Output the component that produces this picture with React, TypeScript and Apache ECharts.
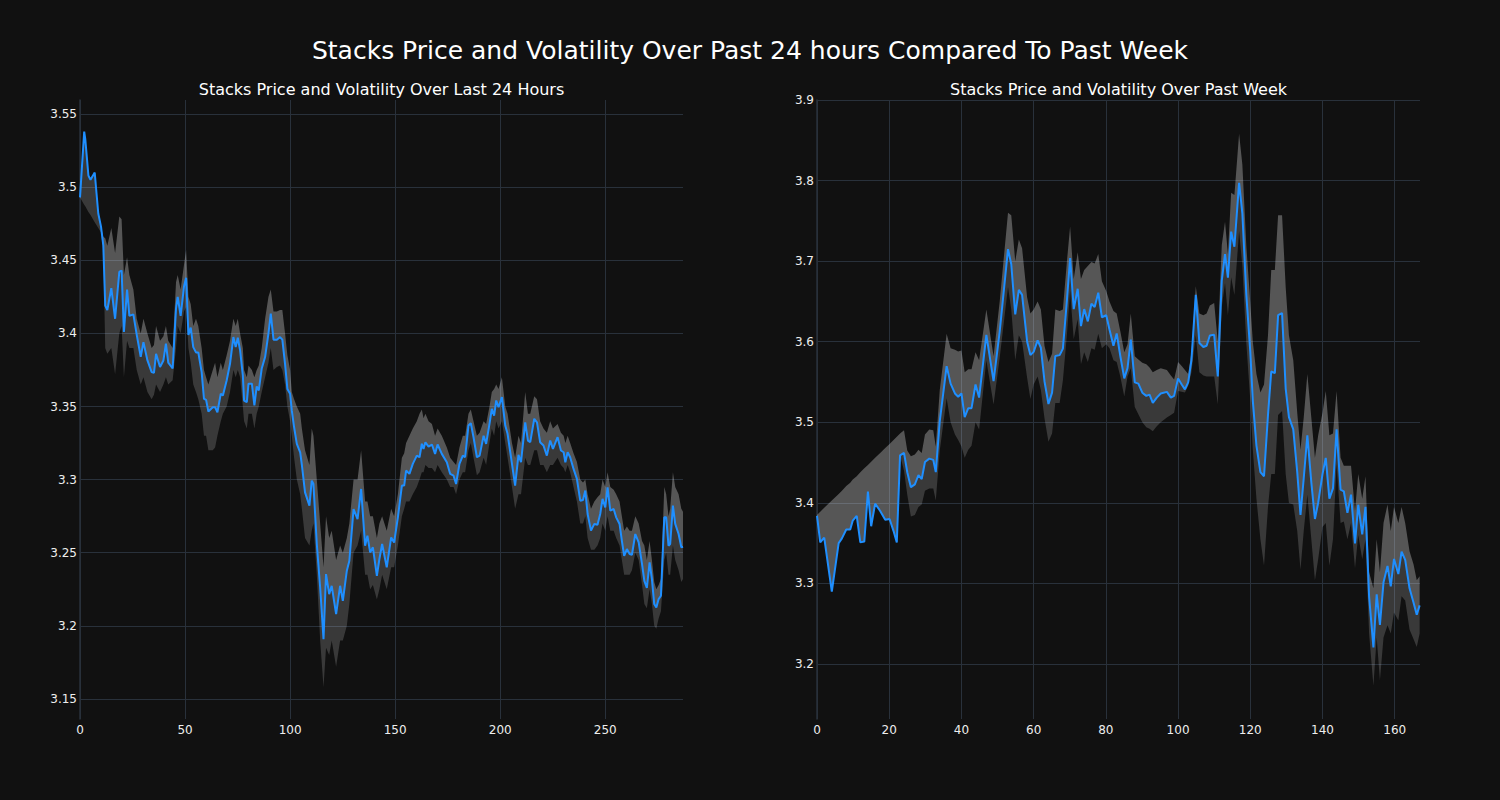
import React, { useEffect, useRef } from "react";
import * as echarts from "echarts";

const mainTitle = "Stacks Price and Volatility Over Past 24 hours Compared To Past Week";
const dayTitle = "Stacks Price and Volatility Over Last 24 Hours";
const weekTitle = "Stacks Price and Volatility Over Past Week";

// ---- Last 24 hours ----
const dayX = [0, 2, 2.5, 4, 5, 7, 8.7, 10, 11.1, 12, 13, 14.9, 16.7, 18.7, 19.8, 20.9, 22.4, 23.5, 25.4, 27, 28.9, 30.2, 32.1, 34.1, 35.2, 36.2, 38.1, 39.7, 40.9, 42, 44.1, 45.7, 46.5, 47.9, 49.5, 50.5, 51.6, 52.7, 53.9, 55.2, 56.3, 57.9, 59, 60, 61.1, 63.2, 64.3, 65.4, 67, 68, 69.8, 71.4, 73, 74.1, 75.1, 76.2, 77.5, 78.1, 79.4, 80.2, 81.8, 83, 84.1, 85.1, 86.5, 88.1, 89.7, 90.8, 92.1, 93.7, 95.2, 96.3, 97.6, 98.7, 100, 100.8, 101.9, 103.2, 104.8, 105.6, 107.1, 109.2, 110.3, 111.1, 112.7, 114.3, 115.9, 117.1, 118.6, 119.8, 121.9, 123.8, 125.1, 127, 128.2, 130.2, 132.1, 133.8, 135.7, 136.8, 138.1, 139.4, 141.3, 142.5, 143.8, 146, 148.1, 149.5, 151.3, 153.2, 154.3, 155.2, 156.8, 158.4, 160.3, 161.6, 162.7, 163.5, 164.4, 165.9, 167.5, 169, 170.2, 172.2, 174.6, 176.2, 177.8, 179, 180.6, 182.2, 183.3, 184.9, 186, 187.3, 188.9, 190.2, 192.1, 193.3, 194.9, 196, 197.1, 198.1, 199.2, 200.8, 202.4, 203.5, 205.6, 207.1, 208.7, 209.9, 211.9, 213.2, 214.3, 216.2, 217.5, 219, 220.6, 222.2, 223.8, 225.1, 227.3, 228.9, 230.2, 231, 232.1, 233.3, 234.9, 236.5, 238.1, 239.4, 240.5, 241.6, 243.2, 244.8, 246.3, 247.6, 248.7, 250, 251.1, 252.4, 254, 255.2, 256.8, 257.9, 259, 260.3, 261.6, 262.7, 264.3, 265.9, 267.5, 268.6, 269.8, 271.1, 272.2, 273.3, 274.3, 275.4, 276.5, 278.1, 279, 280.1, 280.9, 282.2, 283.3, 284.9, 286.2, 287];
const dayPrice = [3.493, 3.538, 3.533, 3.508, 3.505, 3.51, 3.482, 3.473, 3.46, 3.419, 3.416, 3.431, 3.41, 3.442, 3.443, 3.401, 3.43, 3.412, 3.413, 3.399, 3.384, 3.394, 3.3815, 3.3735, 3.373, 3.386, 3.377, 3.3815, 3.393, 3.38, 3.376, 3.417, 3.425, 3.412, 3.432, 3.438, 3.399, 3.404, 3.3906, 3.387, 3.387, 3.3735, 3.3553, 3.3546, 3.3466, 3.3495, 3.3495, 3.3461, 3.3587, 3.3575, 3.3678, 3.3792, 3.3975, 3.3906, 3.397, 3.3884, 3.3712, 3.354, 3.353, 3.3656, 3.3656, 3.3507, 3.3637, 3.361, 3.376, 3.3838, 3.4, 3.4135, 3.3957, 3.3957, 3.3975, 3.3957, 3.379, 3.362, 3.3587, 3.3473, 3.3358, 3.3245, 3.3187, 3.31, 3.2913, 3.2822, 3.2993, 3.297, 3.256, 3.2262, 3.1909, 3.2354, 3.2217, 3.2274, 3.208, 3.2274, 3.2171, 3.2377, 3.2445, 3.2799, 3.273, 3.2936, 3.2548, 3.2616, 3.2502, 3.2537, 3.2342, 3.2457, 3.256, 3.24, 3.2605, 3.257, 3.2742, 3.2959, 3.2959, 3.3062, 3.3039, 3.3108, 3.3164, 3.3153, 3.3245, 3.321, 3.3255, 3.3226, 3.324, 3.3176, 3.324, 3.3176, 3.3119, 3.3039, 3.3027, 3.297, 3.3108, 3.3164, 3.3153, 3.337, 3.3386, 3.329, 3.3153, 3.3164, 3.33, 3.3244, 3.3381, 3.3484, 3.3438, 3.3541, 3.3495, 3.3564, 3.337, 3.3313, 3.3108, 3.2959, 3.317, 3.3119, 3.3392, 3.3267, 3.3256, 3.3416, 3.3392, 3.3256, 3.3233, 3.3164, 3.3267, 3.321, 3.329, 3.3199, 3.3187, 3.3119, 3.3187, 3.3153, 3.3073, 3.3005, 3.2856, 3.2861, 3.2925, 3.2765, 3.2651, 3.2697, 3.2692, 3.2765, 3.2868, 3.281, 3.2947, 3.2788, 3.2799, 3.2742, 3.2697, 3.2582, 3.2479, 3.2525, 3.2491, 3.2486, 3.2628, 3.2571, 3.2422, 3.2308, 3.226, 3.2434, 3.232, 3.2149, 3.2126, 3.2183, 3.2206, 3.2742, 3.2742, 3.2548, 3.256, 3.2822, 3.2697, 3.2628, 3.2537, 3.2541];
const dayUpper = [3.493, 3.538, 3.533, 3.508, 3.505, 3.51, 3.482, 3.473, 3.466, 3.465, 3.46, 3.472, 3.455, 3.48, 3.478, 3.44, 3.452, 3.44, 3.43, 3.41, 3.4, 3.41, 3.4, 3.39, 3.392, 3.405, 3.395, 3.398, 3.405, 3.395, 3.39, 3.435, 3.44, 3.43, 3.447, 3.457, 3.425, 3.42, 3.405, 3.41, 3.405, 3.39, 3.375, 3.37, 3.365, 3.375, 3.38, 3.37, 3.38, 3.375, 3.385, 3.395, 3.41, 3.405, 3.41, 3.4, 3.39, 3.375, 3.37, 3.378, 3.375, 3.37, 3.375, 3.378, 3.39, 3.41, 3.425, 3.43, 3.415, 3.415, 3.416, 3.416, 3.4, 3.385, 3.375, 3.36, 3.355, 3.35, 3.345, 3.335, 3.32, 3.31, 3.335, 3.33, 3.3, 3.27, 3.24, 3.275, 3.26, 3.265, 3.245, 3.255, 3.25, 3.26, 3.27, 3.3, 3.3, 3.32, 3.285, 3.285, 3.275, 3.275, 3.26, 3.27, 3.275, 3.265, 3.28, 3.275, 3.29, 3.315, 3.318, 3.325, 3.33, 3.335, 3.34, 3.345, 3.348, 3.342, 3.345, 3.34, 3.338, 3.33, 3.335, 3.33, 3.322, 3.315, 3.312, 3.31, 3.322, 3.33, 3.33, 3.345, 3.348, 3.34, 3.33, 3.332, 3.34, 3.338, 3.35, 3.36, 3.362, 3.365, 3.362, 3.37, 3.35, 3.345, 3.325, 3.315, 3.33, 3.325, 3.36, 3.345, 3.345, 3.357, 3.355, 3.34, 3.335, 3.332, 3.34, 3.335, 3.338, 3.332, 3.33, 3.325, 3.33, 3.325, 3.318, 3.312, 3.3, 3.298, 3.3, 3.29, 3.28, 3.285, 3.288, 3.29, 3.3, 3.295, 3.305, 3.295, 3.293, 3.29, 3.285, 3.275, 3.265, 3.268, 3.265, 3.265, 3.275, 3.27, 3.258, 3.255, 3.245, 3.258, 3.245, 3.23, 3.225, 3.228, 3.232, 3.295, 3.29, 3.275, 3.28, 3.305, 3.295, 3.29, 3.28, 3.278];
const dayLower = [3.493, 3.488, 3.487, 3.483, 3.481, 3.476, 3.472, 3.469, 3.456, 3.39, 3.386, 3.39, 3.372, 3.4, 3.405, 3.37, 3.395, 3.39, 3.39, 3.375, 3.365, 3.37, 3.36, 3.355, 3.358, 3.365, 3.36, 3.365, 3.37, 3.365, 3.368, 3.39, 3.405, 3.4, 3.415, 3.418, 3.39, 3.38, 3.365, 3.36, 3.355, 3.345, 3.33, 3.33, 3.32, 3.32, 3.322, 3.33, 3.34, 3.345, 3.35, 3.36, 3.375, 3.37, 3.375, 3.37, 3.35, 3.34, 3.335, 3.345, 3.345, 3.335, 3.345, 3.35, 3.36, 3.37, 3.38, 3.39, 3.375, 3.377, 3.378, 3.375, 3.365, 3.35, 3.34, 3.33, 3.315, 3.3, 3.29, 3.28, 3.26, 3.255, 3.265, 3.27, 3.235, 3.19, 3.158, 3.185, 3.18, 3.19, 3.172, 3.19, 3.19, 3.2, 3.215, 3.25, 3.255, 3.265, 3.235, 3.235, 3.225, 3.228, 3.218, 3.225, 3.235, 3.225, 3.24, 3.24, 3.255, 3.275, 3.28, 3.285, 3.285, 3.29, 3.295, 3.3, 3.305, 3.305, 3.31, 3.308, 3.308, 3.305, 3.31, 3.305, 3.3, 3.295, 3.295, 3.29, 3.3, 3.305, 3.305, 3.32, 3.325, 3.315, 3.303, 3.305, 3.315, 3.31, 3.325, 3.335, 3.33, 3.34, 3.335, 3.34, 3.325, 3.315, 3.295, 3.28, 3.29, 3.29, 3.315, 3.31, 3.31, 3.32, 3.32, 3.31, 3.31, 3.305, 3.31, 3.31, 3.315, 3.31, 3.308, 3.305, 3.31, 3.305, 3.295, 3.285, 3.27, 3.27, 3.275, 3.26, 3.252, 3.252, 3.255, 3.26, 3.27, 3.265, 3.275, 3.265, 3.265, 3.26, 3.255, 3.245, 3.235, 3.235, 3.235, 3.238, 3.25, 3.245, 3.228, 3.215, 3.212, 3.225, 3.215, 3.2, 3.198, 3.205, 3.21, 3.245, 3.25, 3.235, 3.235, 3.255, 3.245, 3.238, 3.23, 3.232];

// ---- Past week ----
const weekX = [0, 0.9, 2, 4.1, 6, 6.9, 8.1, 9.2, 9.9, 11, 12, 13.1, 14.1, 15, 16.1, 17.5, 18.9, 20.1, 21.2, 22.1, 23, 24.1, 25, 26, 27.1, 28.1, 29, 29.9, 31.1, 32.2, 32.9, 34, 35.9, 37, 38.2, 39.1, 40, 40.9, 41.9, 42.8, 43.9, 44.9, 46.9, 48.9, 50.6, 52.9, 53.8, 54.9, 55.9, 56.8, 58.2, 59.1, 60, 61.1, 62, 63, 64.1, 65.1, 66, 67.2, 68.1, 69.2, 70.1, 71.1, 72.2, 73.1, 74, 75, 76, 76.9, 77.9, 78.9, 80.1, 81, 82.1, 83, 84, 85.1, 86, 86.9, 88, 89, 90.1, 91.2, 92.1, 93, 94.1, 95.2, 96.9, 98, 98.9, 100, 101, 101.9, 102.8, 103.7, 104.9, 105.9, 107, 107.9, 108.8, 110, 111, 112.1, 113, 113.8, 114.7, 115.6, 116.9, 117.8, 118.9, 120, 120.7, 121.7, 122.8, 123.8, 124.9, 125.8, 126.8, 127.7, 128.8, 129.8, 130.7, 131.9, 133, 133.9, 134.8, 135.8, 136.9, 137.9, 138.8, 140, 140.9, 141.9, 142.9, 143.9, 145, 145.9, 146.9, 147.9, 149, 149.9, 151, 151.9, 152.9, 154.1, 155, 155.9, 156.9, 158, 158.9, 159.8, 161, 161.9, 162.9, 164.1, 165.2, 166.1, 166.9];
const weekPrice = [3.384, 3.351, 3.357, 3.29, 3.35, 3.356, 3.367, 3.367, 3.378, 3.384, 3.351, 3.352, 3.414, 3.371, 3.399, 3.39, 3.379, 3.38, 3.365, 3.351, 3.459, 3.462, 3.438, 3.4195, 3.423, 3.4346, 3.4296, 3.4508, 3.4549, 3.4534, 3.4382, 3.5014, 3.5697, 3.548, 3.5358, 3.5318, 3.5358, 3.5065, 3.5176, 3.5176, 3.5469, 3.5307, 3.6086, 3.551, 3.6127, 3.7149, 3.6962, 3.634, 3.6643, 3.6582, 3.6, 3.5834, 3.5874, 3.6016, 3.5925, 3.551, 3.5227, 3.5368, 3.5823, 3.5834, 3.5914, 3.6506, 3.7037, 3.6405, 3.6658, 3.6193, 3.6405, 3.6253, 3.6471, 3.643, 3.6608, 3.6304, 3.6329, 3.6152, 3.595, 3.6102, 3.5823, 3.5545, 3.5672, 3.6026, 3.5495, 3.548, 3.5368, 3.5328, 3.5343, 3.5242, 3.5307, 3.5358, 3.5378, 3.5307, 3.5328, 3.5545, 3.5469, 3.5409, 3.5495, 3.5773, 3.6582, 3.5985, 3.5935, 3.595, 3.6077, 3.6086, 3.557, 3.6759, 3.7088, 3.6795, 3.7366, 3.7179, 3.7973, 3.7594, 3.6582, 3.5874, 3.5267, 3.4711, 3.4382, 3.4331, 3.509, 3.5631, 3.5611, 3.6329, 3.6355, 3.5419, 3.5065, 3.4913, 3.4382, 3.3851, 3.4306, 3.4837, 3.4255, 3.38, 3.4002, 3.4357, 3.4559, 3.4053, 3.418, 3.4913, 3.4164, 3.4144, 3.3876, 3.4103, 3.3497, 3.3977, 3.3608, 3.3952, 3.2839, 3.2207, 3.2864, 3.2485, 3.3016, 3.3218, 3.2965, 3.3304, 3.3117, 3.3396, 3.3294, 3.294, 3.2763, 3.2612, 3.2728];
const weekUpper = [3.385, 3.389, 3.394, 3.403, 3.411, 3.415, 3.421, 3.425, 3.429, 3.433, 3.438, 3.443, 3.447, 3.451, 3.456, 3.462, 3.468, 3.473, 3.478, 3.482, 3.486, 3.49, 3.465, 3.458, 3.46, 3.466, 3.462, 3.485, 3.491, 3.49, 3.47, 3.54, 3.61, 3.592, 3.59, 3.588, 3.589, 3.562, 3.566, 3.566, 3.587, 3.577, 3.64, 3.582, 3.65, 3.76, 3.757, 3.7, 3.727, 3.716, 3.655, 3.635, 3.64, 3.65, 3.64, 3.595, 3.575, 3.585, 3.64, 3.638, 3.64, 3.699, 3.743, 3.678, 3.711, 3.678, 3.689, 3.694, 3.699, 3.697, 3.709, 3.675, 3.663, 3.65, 3.638, 3.635, 3.613, 3.587, 3.597, 3.635, 3.582, 3.578, 3.574, 3.572, 3.568, 3.562, 3.565, 3.567, 3.565, 3.558, 3.553, 3.575, 3.57, 3.565, 3.56, 3.587, 3.669, 3.635, 3.633, 3.635, 3.645, 3.648, 3.6, 3.72, 3.749, 3.709, 3.785, 3.782, 3.858, 3.82, 3.719, 3.648, 3.6, 3.56, 3.537, 3.547, 3.608, 3.689, 3.689, 3.757, 3.757, 3.668, 3.608, 3.577, 3.512, 3.466, 3.506, 3.56, 3.506, 3.456, 3.484, 3.512, 3.539, 3.484, 3.486, 3.539, 3.456, 3.446, 3.446, 3.446, 3.39, 3.436, 3.405, 3.433, 3.314, 3.294, 3.355, 3.314, 3.375, 3.398, 3.365, 3.395, 3.375, 3.395, 3.375, 3.34, 3.324, 3.304, 3.309];
const weekLower = [3.384, 3.351, 3.357, 3.29, 3.35, 3.356, 3.367, 3.367, 3.378, 3.384, 3.351, 3.352, 3.414, 3.371, 3.399, 3.39, 3.379, 3.38, 3.365, 3.351, 3.459, 3.44, 3.41, 3.383, 3.385, 3.395, 3.398, 3.415, 3.418, 3.418, 3.403, 3.465, 3.53, 3.5, 3.485, 3.478, 3.47, 3.456, 3.466, 3.471, 3.5, 3.491, 3.577, 3.522, 3.58, 3.668, 3.64, 3.577, 3.608, 3.6, 3.555, 3.529, 3.547, 3.557, 3.54, 3.505, 3.476, 3.486, 3.524, 3.524, 3.552, 3.608, 3.663, 3.603, 3.628, 3.572, 3.587, 3.575, 3.592, 3.59, 3.61, 3.592, 3.597, 3.592, 3.577, 3.575, 3.557, 3.532, 3.557, 3.567, 3.519, 3.51, 3.5, 3.494, 3.492, 3.489, 3.495, 3.5, 3.506, 3.509, 3.512, 3.539, 3.538, 3.537, 3.545, 3.562, 3.608, 3.562, 3.558, 3.557, 3.557, 3.557, 3.522, 3.643, 3.673, 3.633, 3.68, 3.658, 3.737, 3.694, 3.598, 3.527, 3.466, 3.405, 3.355, 3.322, 3.395, 3.436, 3.436, 3.509, 3.514, 3.436, 3.4, 3.398, 3.365, 3.317, 3.365, 3.41, 3.355, 3.304, 3.33, 3.37, 3.375, 3.322, 3.355, 3.448, 3.375, 3.377, 3.355, 3.375, 3.319, 3.36, 3.33, 3.355, 3.238, 3.173, 3.233, 3.18, 3.233, 3.248, 3.238, 3.264, 3.254, 3.284, 3.279, 3.243, 3.231, 3.221, 3.238];

// ---- Ticks ----
const dayXTicks = [0, 50, 100, 150, 200, 250];
const dayYTicks = [3.15, 3.2, 3.25, 3.3, 3.35, 3.4, 3.45, 3.5, 3.55];
const weekXTicks = [0, 20, 40, 60, 80, 100, 120, 140, 160];
const weekYTicks = [3.2, 3.3, 3.4, 3.5, 3.6, 3.7, 3.8, 3.9];

const BG = "#111111";
const GRID = "#29313b";
const TEXT = "#eeeeee";
const LINE = "#1f8fff";
const FONT = "DejaVu Sans";

function fmt(v: number) {
  return String(Math.round(v * 1000) / 1000);
}

function xAxisFor(idx: number, max: number, ticks: number[]) {
  return {
    type: "value",
    gridIndex: idx,
    min: 0,
    max,
    axisLine: { show: false },
    axisTick: { show: false, customValues: ticks },
    axisLabel: { customValues: ticks, color: TEXT, fontSize: 12, fontFamily: FONT, margin: 5, formatter: fmt },
    splitLine: { show: true, lineStyle: { color: GRID, width: 1 } },
  };
}

function yAxisFor(idx: number, min: number, max: number, ticks: number[]) {
  return {
    type: "value",
    gridIndex: idx,
    min,
    max,
    axisLine: { show: true, lineStyle: { color: GRID, width: 1.5 } },
    axisTick: { show: false, customValues: ticks },
    axisLabel: { customValues: ticks, color: TEXT, fontSize: 12, fontFamily: FONT, margin: 3, formatter: fmt },
    splitLine: { show: true, lineStyle: { color: GRID, width: 1 } },
  };
}

function bandSeries(idx: number, xs: number[], up: number[], pr: number[], lo: number[]) {
  return {
    type: "custom",
    xAxisIndex: idx,
    yAxisIndex: idx,
    silent: true,
    z: 1,
    data: [[xs[0], pr[0]]],
    encode: { x: 0, y: 1 },
    renderItem: (_params: any, api: any) => {
      const top = xs.map((x, i) => api.coord([x, up[i]]));
      const mid = xs.map((x, i) => api.coord([x, pr[i]]));
      const bot = xs.map((x, i) => api.coord([x, lo[i]]));
      return {
        type: "group",
        children: [
          {
            type: "polygon",
            shape: { points: top.concat(mid.slice().reverse()) },
            style: { fill: "rgba(255,255,255,0.29)" },
          },
          {
            type: "polygon",
            shape: { points: mid.concat(bot.slice().reverse()) },
            style: { fill: "rgba(255,255,255,0.17)" },
          },
        ],
      };
    },
  };
}

function lineSeries(idx: number, xs: number[], pr: number[]) {
  return {
    type: "line",
    xAxisIndex: idx,
    yAxisIndex: idx,
    z: 3,
    showSymbol: false,
    symbol: "none",
    data: xs.map((x, i) => [x, pr[i]]),
    lineStyle: { color: LINE, width: 2 },
  };
}

export default function App() {
  const ref = useRef<HTMLDivElement>(null);
  useEffect(() => {
    document.body.style.margin = "0";
    document.body.style.background = BG;
    const chart = echarts.init(ref.current!, null, { renderer: "svg" });
    chart.setOption({
      animation: false,
      backgroundColor: BG,
      textStyle: { fontFamily: FONT },
      grid: [
        { left: 80, top: 100, width: 603, height: 619 },
        { left: 817, top: 100, width: 603, height: 619 },
      ],
      xAxis: [xAxisFor(0, 287, dayXTicks), xAxisFor(1, 167, weekXTicks)],
      yAxis: [
        yAxisFor(0, 3.1363, 3.5596, dayYTicks),
        yAxisFor(1, 3.1318, 3.9, weekYTicks),
      ],
      graphic: [
        {
          type: "text",
          x: 750,
          y: 50,
          style: { text: mainTitle, fill: "#ffffff", font: `25px '${FONT}'`, textAlign: "center", textVerticalAlign: "middle" },
        },
        {
          type: "text",
          x: 381.5,
          y: 89,
          style: { text: dayTitle, fill: "#ffffff", font: `16px '${FONT}'`, textAlign: "center", textVerticalAlign: "middle" },
        },
        {
          type: "text",
          x: 1118.5,
          y: 89,
          style: { text: weekTitle, fill: "#ffffff", font: `16px '${FONT}'`, textAlign: "center", textVerticalAlign: "middle" },
        },
      ],
      series: [
        bandSeries(0, dayX, dayUpper, dayPrice, dayLower),
        lineSeries(0, dayX, dayPrice),
        bandSeries(1, weekX, weekUpper, weekPrice, weekLower),
        lineSeries(1, weekX, weekPrice),
      ],
    });
    return () => chart.dispose();
  }, []);
  return <div ref={ref} style={{ width: 1500, height: 800 }} />;
}
